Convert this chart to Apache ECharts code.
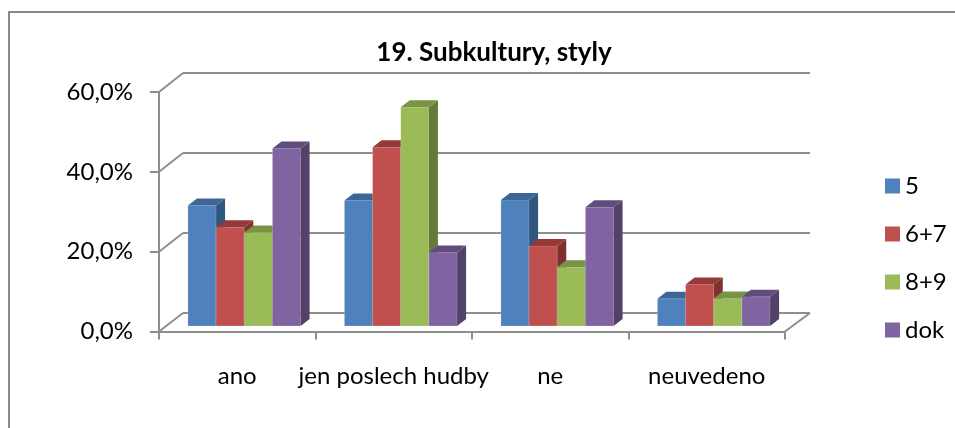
<!DOCTYPE html>
<html>
<head>
<meta charset="utf-8">
<script src="https://cdn.jsdelivr.net/npm/echarts@6/dist/echarts.min.js"></script>
<style>
  html, body { margin: 0; padding: 0; background: #fff; }
  #chart { width: 955px; height: 428px; }
</style>
</head>
<body>
<div id="chart"></div>
<script>
// data
const categories = ['ano', 'jen poslech hudby', 'ne', 'neuvedeno'];
const seriesNames = ['5', '6+7', '8+9', 'dok'];
const values5 = [30.1, 31.4, 31.5, 6.8];
const values67 = [24.7, 44.7, 20.0, 10.4];
const values89 = [23.4, 54.7, 14.7, 6.9];
const valuesDok = [44.4, 18.4, 29.7, 7.3];
const yTicks = [0, 20, 40, 60];

const allValues = [values5, values67, values89, valuesDok];
const fronts = ['#4F81BD', '#C0504D', '#9BBB59', '#8064A2'];
const tops = ['#3C6696', '#953A38', '#7A9446', '#624C7D'];
const sides = ['#33567F', '#7E3230', '#66793A', '#534168'];

const FONT = 'Lato';
const LINE = '#8e8e8e';
const DX = 9, DY = 7;

const chart = echarts.init(document.getElementById('chart'));

function pct(v) {
    return v.toFixed(1).replace('.', ',') + '%';
}

function makeRender(si) {
    return function (params, api) {
        const cat = api.value(0);
        const val = api.value(1);
        const base = api.coord([cat, 0]);
        const top = api.coord([cat, val]);
        const band = api.size([1, 0])[0];
        const bw = band * 0.72 / 4;
        const x0 = base[0] - band * 0.36 + si * bw;
        const x1 = x0 + bw;
        return {
            type: 'group',
            children: [
                {
                    type: 'rect',
                    shape: { x: x0, y: top[1], width: bw, height: base[1] - top[1] },
                    style: { fill: fronts[si], stroke: 'rgba(255,255,255,0.35)', lineWidth: 0.6 }
                },
                {
                    type: 'polygon',
                    shape: { points: [[x1, top[1]], [x1 + DX, top[1] - DY], [x1 + DX, base[1] - DY], [x1, base[1]]] },
                    style: { fill: sides[si] }
                },
                {
                    type: 'polygon',
                    shape: { points: [[x0, top[1]], [x0 + DX, top[1] - DY], [x1 + DX, top[1] - DY], [x1, top[1]]] },
                    style: { fill: tops[si] }
                }
            ]
        };
    };
}

const series = seriesNames.map(function (name, si) {
    return {
        name: name,
        type: 'custom',
        xAxisIndex: 2,
        yAxisIndex: 2,
        itemStyle: { color: fronts[si] },
        renderItem: makeRender(si),
        encode: { x: 0, y: 1 },
        data: allValues[si].map(function (v, i) { return [i, v]; })
    };
});

const option = {
    animation: false,
    title: {
        text: '19. Subkultury, styly',
        left: 489,
        top: 35,
        textAlign: 'center',
        textStyle: { fontFamily: FONT, fontSize: 26, fontWeight: 'bold', color: '#000' }
    },
    legend: {
        orient: 'vertical',
        left: 880,
        top: 169,
        itemWidth: 15,
        itemHeight: 15,
        itemGap: 24,
        icon: 'rect',
        data: seriesNames,
        textStyle: { fontFamily: FONT, fontSize: 24, lineHeight: 24, color: '#000' }
    },
    grid: [
        // front axes
        { left: 159, top: 92, width: 626, height: 239.5 },
        // back wall
        { left: 183, top: 73, width: 627, height: 240 },
        // bar plane
        { left: 166, top: 86, width: 626, height: 240 }
    ],
    xAxis: [
        {
            gridIndex: 0,
            type: 'category',
            data: categories,
            axisLine: { lineStyle: { color: LINE, width: 2 } },
            axisTick: { show: true, length: 8, lineStyle: { color: LINE, width: 2 } },
            axisLabel: { interval: 0, margin: 33, fontFamily: FONT, fontSize: 24, color: '#000' }
        },
        { gridIndex: 1, type: 'category', data: categories, show: false },
        { gridIndex: 2, type: 'category', data: categories, show: false }
    ],
    yAxis: [
        {
            gridIndex: 0,
            type: 'value',
            min: 0, max: 60, interval: 20,
            axisLine: { show: true, lineStyle: { color: LINE, width: 2 } },
            axisTick: { show: true, length: 9, lineStyle: { color: LINE, width: 2 } },
            splitLine: { show: false },
            axisLabel: { margin: 26, fontFamily: FONT, fontSize: 24, color: '#000', formatter: pct }
        },
        {
            gridIndex: 1,
            type: 'value',
            min: 0, max: 60, interval: 20,
            axisLine: { show: false },
            axisTick: { show: false },
            axisLabel: { show: false },
            splitLine: { show: true, lineStyle: { color: LINE, width: 2 } }
        },
        { gridIndex: 2, type: 'value', min: 0, max: 60, interval: 20, show: false, splitLine: { show: false } }
    ],
    series: series
};

chart.setOption(option);

// perspective edges joining the front axes to the back wall
const frontLeft = 159, frontRight = 785, backLeft = 183, backRight = 810;
const edges = yTicks.map(function (v) {
    const yf = chart.convertToPixel({ yAxisIndex: 0 }, v);
    const yb = chart.convertToPixel({ yAxisIndex: 1 }, v);
    return {
        type: 'line',
        shape: { x1: frontLeft, y1: yf, x2: backLeft, y2: yb },
        style: { stroke: LINE, lineWidth: 2 },
        z: 1
    };
});
const y0f = chart.convertToPixel({ yAxisIndex: 0 }, 0);
const y0b = chart.convertToPixel({ yAxisIndex: 1 }, 0);
edges.push({
    type: 'line',
    shape: { x1: frontRight, y1: y0f, x2: backRight, y2: y0b },
    style: { stroke: LINE, lineWidth: 2 },
    z: 1
});
// outer chart border
edges.push({
    type: 'rect',
    shape: { x: 9, y: 12, width: 1000, height: 500 },
    style: { fill: 'none', stroke: '#888', lineWidth: 2 },
    z: 0
});
chart.setOption({ graphic: edges });
</script>
</body>
</html>
